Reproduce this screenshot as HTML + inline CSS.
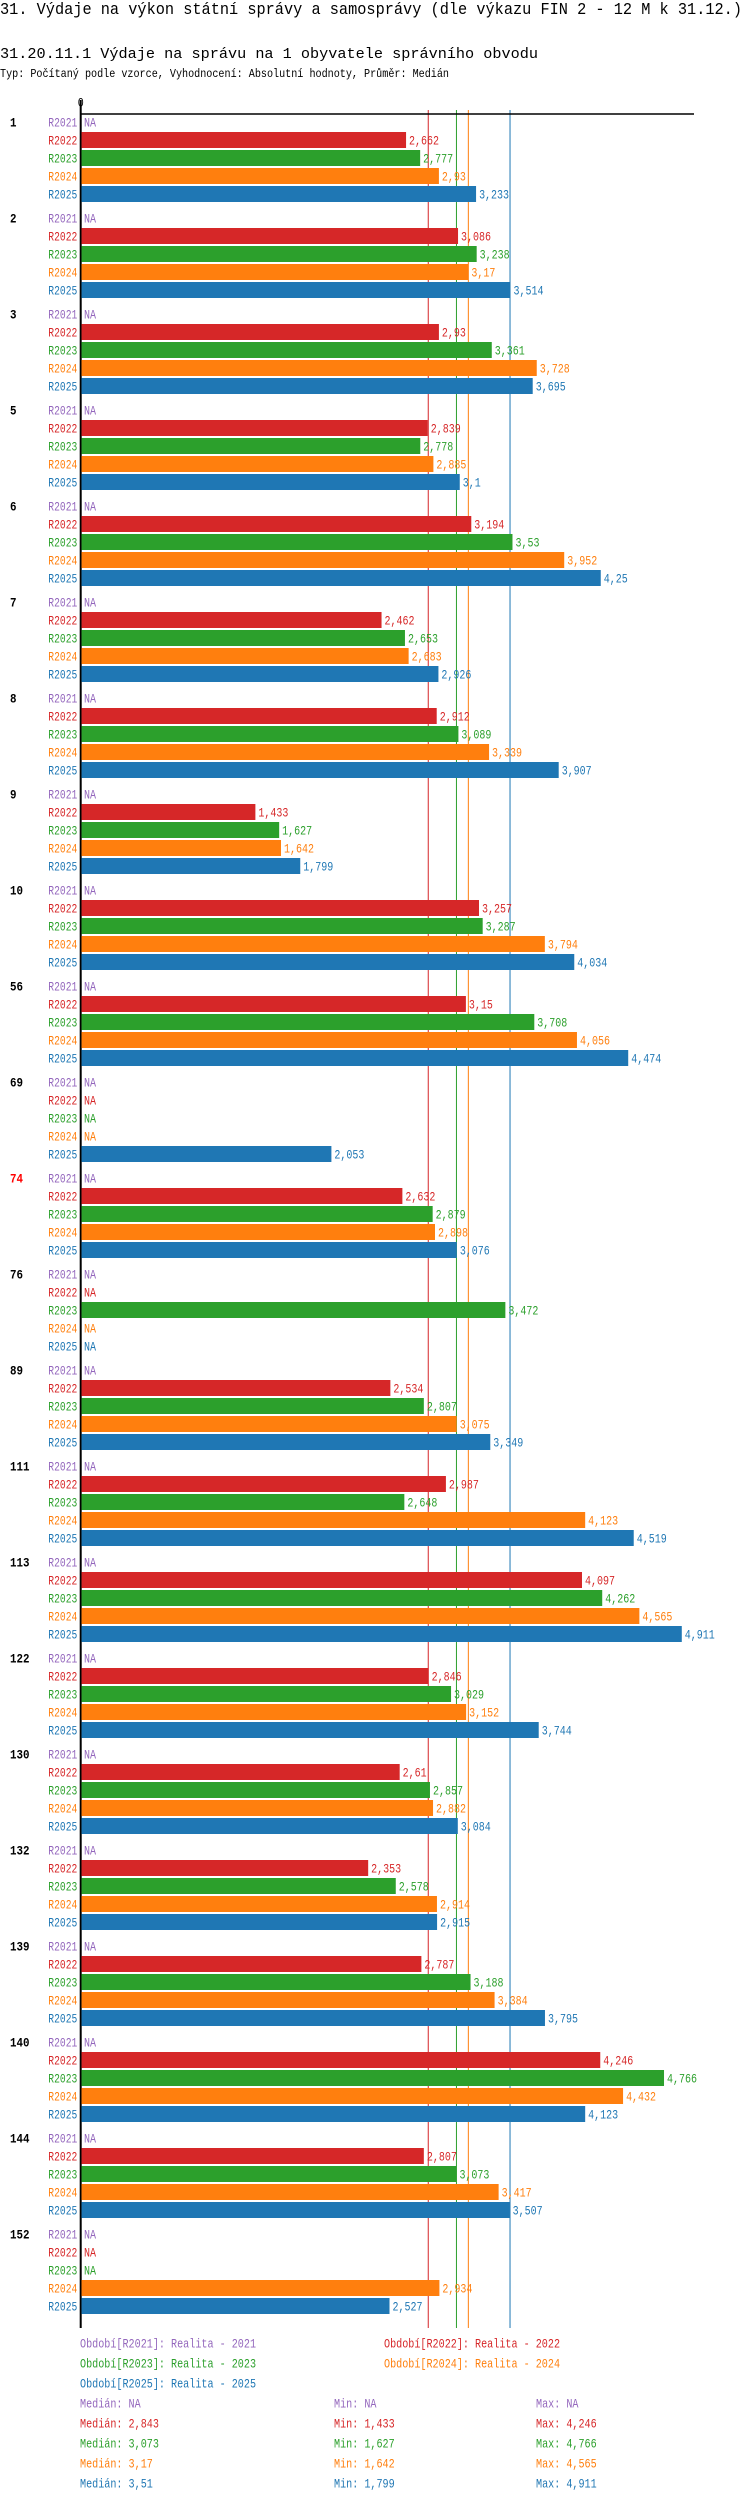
<!DOCTYPE html>
<html><head><meta charset="utf-8"><style>
body{margin:0;background:#fff;}
svg{display:block;font-family:"Liberation Mono",monospace;}
</style></head><body>
<svg id="chart" width="750" height="2502" viewBox="0 0 750 2502" xmlns="http://www.w3.org/2000/svg">
<text x="0" y="14" font-size="17" textLength="742" lengthAdjust="spacingAndGlyphs">31. Výdaje na výkon státní správy a samosprávy (dle výkazu FIN 2 - 12 M k 31.12.)</text>
<text x="0" y="58" font-size="15" textLength="538" lengthAdjust="spacingAndGlyphs">31.20.11.1 Výdaje na správu na 1 obyvatele správního obvodu</text>
<text x="0" y="77" font-size="12" textLength="449" lengthAdjust="spacingAndGlyphs">Typ: Počítaný podle vzorce, Vyhodnocení: Absolutní hodnoty, Průměr: Medián</text>
<g id="plot"></g>
</svg>
<script>
const groups=["1","2","3","5","6","7","8","9","10","56","69","74","76","89","111","113","122","130","132","139","140","144","152"];
const series=["R2021","R2022","R2023","R2024","R2025"];
const v2021=[null,null,null,null,null,null,null,null,null,null,null,null,null,null,null,null,null,null,null,null,null,null,null];
const v2022=[2.662,3.086,2.93,2.839,3.194,2.462,2.912,1.433,3.257,3.15,null,2.632,null,2.534,2.987,4.097,2.846,2.61,2.353,2.787,4.246,2.807,null];
const v2023=[2.777,3.238,3.361,2.778,3.53,2.653,3.089,1.627,3.287,3.708,null,2.879,3.472,2.807,2.648,4.262,3.029,2.857,2.578,3.188,4.766,3.073,null];
const v2024=[2.93,3.17,3.728,2.885,3.952,2.683,3.339,1.642,3.794,4.056,null,2.898,null,3.075,4.123,4.565,3.152,2.882,2.914,3.384,4.432,3.417,2.934];
const v2025=[3.233,3.514,3.695,3.1,4.25,2.926,3.907,1.799,4.034,4.474,2.053,3.076,null,3.349,4.519,4.911,3.744,3.084,2.915,3.795,4.123,3.507,2.527];
const medians=[null,2.843,3.073,3.17,3.51];
const mins=[null,1.433,1.627,1.642,1.799];
const maxs=[null,4.246,4.766,4.565,4.911];
const legendNames=["Období[R2021]: Realita - 2021","Období[R2022]: Realita - 2022","Období[R2023]: Realita - 2023","Období[R2024]: Realita - 2024","Období[R2025]: Realita - 2025"];
const highlightGroup="74";

const values=[v2021,v2022,v2023,v2024,v2025];
const colors=["#9467bd","#d62728","#2ca02c","#ff7f0e","#1f77b4"];
const NS="http://www.w3.org/2000/svg";
const plot=document.getElementById('plot');
const x0=79.7, pxPerUnit=122.6, barStart=81.5;
const xs=v=>x0+v*pxPerUnit;
const rowY=(g,r)=>123+g*96+r*18;
const fmt=v=>v===null?"NA":String(v).replace('.',',');
function mk(tag,attrs){const e=document.createElementNS(NS,tag);for(const k in attrs)e.setAttribute(k,attrs[k]);plot.appendChild(e);return e;}
function txt(s,attrs,w){const e=mk('text',Object.assign({'font-size':13,'dominant-baseline':'central'},attrs));e.textContent=s;if(w){e.setAttribute('textLength',w);e.setAttribute('lengthAdjust','spacingAndGlyphs');}return e;}

const lastY=rowY(groups.length-1,4)+21;
medians.forEach((m,i)=>{if(m===null)return;
 const l=mk('line',{x1:xs(m),x2:xs(m),y1:110,y2:lastY,stroke:colors[i],'stroke-width':1});
 
 
});
const ax=mk('line',{x1:80,x2:694,y1:114,y2:114,stroke:'#000','stroke-width':1.5});


const ay=mk('line',{x1:80.7,x2:80.7,y1:100,y2:lastY,stroke:'#000','stroke-width':2});


const zl=txt('0',{x:80.7,y:103,'text-anchor':'middle'},6);



groups.forEach((g,gi)=>{
 const gl=txt(g,{x:10,y:rowY(gi,0),'font-weight':'bold',fill:g===highlightGroup?'#ff0000':'#000'},g.length*6.5);
 
 
 series.forEach((s,si)=>{
  const y=rowY(gi,si);const v=values[si][gi];
  const rl=txt(s,{x:77.3,y:y,'text-anchor':'end',fill:colors[si]},29);
  
  
  let endX=84;
  if(v!==null){
   const b=mk('rect',{x:barStart,y:y-9,width:xs(v)-barStart,height:16,fill:colors[si]});
   
   
   endX=xs(v)+3;
  }
  const t=fmt(v);
  const vl=txt(t,{x:endX,y:y,fill:colors[si]},t.length*6);
  
  
 });
});

const legPos=[[80,2344],[384,2344],[80,2364],[384,2364],[80,2384]];
legendNames.forEach((n,i)=>{
 const e=txt(n,{x:legPos[i][0],y:legPos[i][1],fill:colors[i]},n.length*6.07);
 
 
});
series.forEach((s,i)=>{
 const y=2404+i*20;
 const a="Medián: "+fmt(medians[i]), b="Min: "+fmt(mins[i]), c="Max: "+fmt(maxs[i]);
 const e1=txt(a,{x:80,y:y,fill:colors[i]},a.length*6.07);
 
 
 const e2=txt(b,{x:334,y:y,fill:colors[i]},b.length*6.07);
 
 
 const e3=txt(c,{x:536,y:y,fill:colors[i]},c.length*6.07);
 
 
});
</script>
</body></html>
